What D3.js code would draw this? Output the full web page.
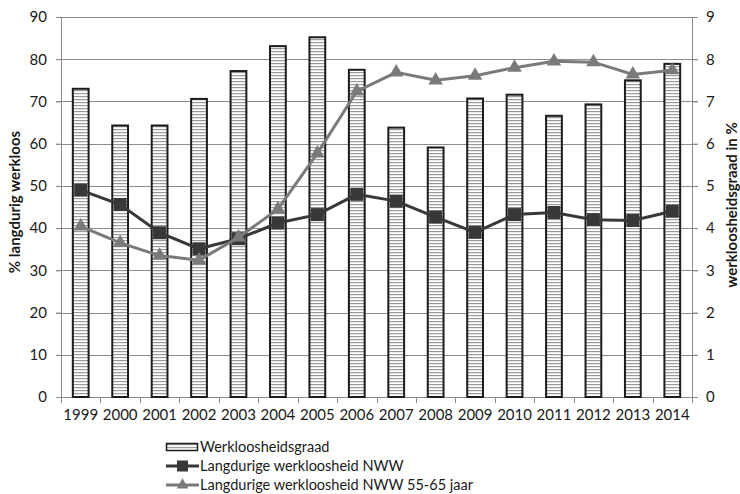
<!DOCTYPE html>
<html>
<head>
<meta charset="utf-8">
<script src="https://cdn.jsdelivr.net/npm/d3@7/dist/d3.min.js"></script>
<style>
  html, body { margin: 0; padding: 0; background: #fff; }
  svg { display: block; font-family: Lato, "Open Sans", sans-serif; }
</style>
</head>
<body>
<svg id="chart" width="740" height="494"></svg>
<script>
// Jaren en reeksen
const years = ["1999","2000","2001","2002","2003","2004","2005","2006","2007","2008","2009","2010","2011","2012","2013","2014"];
const werkloosheidsgraad = [7.30, 6.43, 6.43, 7.06, 7.72, 8.31, 8.52, 7.75, 6.38, 5.91, 7.07, 7.16, 6.66, 6.93, 7.50, 7.89];
const langdurigNWW = [49.0, 45.6, 38.9, 35.1, 37.5, 41.2, 43.2, 48.0, 46.4, 42.6, 39.0, 43.2, 43.7, 42.0, 41.8, 44.0];
const langdurigNWW5565 = [40.4, 36.5, 33.5, 32.4, 37.8, 44.5, 57.7, 72.4, 76.9, 75.0, 76.1, 78.0, 79.5, 79.3, 76.4, 77.4];
const leftTicks = [0, 10, 20, 30, 40, 50, 60, 70, 80, 90];
const rightTicks = [0, 1, 2, 3, 4, 5, 6, 7, 8, 9];
const legendLabels = ["Werkloosheidsgraad", "Langdurige werkloosheid NWW", "Langdurige werkloosheid NWW 55-65 jaar"];

const svg = d3.select("#chart");
const m = { left: 61, right: 48, top: 17, bottom: 97 };
const W = 740, H = 494;
const plotW = W - m.left - m.right, plotH = H - m.top - m.bottom;

const x = d3.scaleBand().domain(years).range([m.left, m.left + plotW]).paddingInner(0.6).paddingOuter(0.3);
const xb = d3.scaleBand().domain(years).range([m.left, m.left + plotW]);
const yL = d3.scaleLinear().domain([0, 90]).range([m.top + plotH, m.top]);
const yR = d3.scaleLinear().domain([0, 9]).range([m.top + plotH, m.top]);

const gridColor = "#8c8c8c";
const textColor = "#1a1a1a";

// Streeppatroon voor de staven
const defs = svg.append("defs");
const pat = defs.append("pattern").attr("id", "stripes").attr("patternUnits", "userSpaceOnUse")
  .attr("width", 6).attr("height", 3);
pat.append("rect").attr("width", 6).attr("height", 3).attr("fill", "#fff");
pat.append("rect").attr("y", 0).attr("width", 6).attr("height", 1.2).attr("fill", "#9a9a9a");

// Rasterlijnen
svg.append("g").selectAll("line").data(leftTicks.slice(1)).join("line")
  .attr("x1", m.left - 5).attr("x2", m.left + plotW + 6)
  .attr("y1", d => Math.round(yL(d)) + 0.5).attr("y2", d => Math.round(yL(d)) + 0.5)
  .attr("stroke", gridColor).attr("stroke-width", 1);

// Linker as
const axL = svg.append("g").attr("transform", `translate(${m.left},0)`)
  .call(d3.axisLeft(yL).tickValues(leftTicks).tickSize(5).tickPadding(9));
// Rechter as
const axR = svg.append("g").attr("transform", `translate(${m.left + plotW},0)`)
  .call(d3.axisRight(yR).tickValues(rightTicks).tickSize(6).tickPadding(8));
// Onderste as
const axB = svg.append("g").attr("transform", `translate(0,${m.top + plotH})`)
  .call(d3.axisBottom(xb).tickSize(0).tickPadding(12));
svg.append("g").selectAll("line").data(years.concat(["end"])).join("line")
  .attr("x1", (d, i) => Math.round(m.left + i * xb.bandwidth()) + 0.5)
  .attr("x2", (d, i) => Math.round(m.left + i * xb.bandwidth()) + 0.5)
  .attr("y1", m.top + plotH).attr("y2", m.top + plotH + 6)
  .attr("stroke", gridColor);

[axL, axR, axB].forEach(a => {
  a.selectAll("path.domain").attr("stroke", gridColor);
  a.selectAll(".tick line").attr("stroke", gridColor);
  a.selectAll("text").attr("fill", textColor).attr("font-size", 15).attr("font-family", "Lato, sans-serif");
});
axB.select("path.domain").attr("stroke", gridColor);

// Staven
svg.append("g").selectAll("rect").data(years).join("rect")
  .attr("x", d => x(d)).attr("width", x.bandwidth())
  .attr("y", (d, i) => yR(werkloosheidsgraad[i]))
  .attr("height", (d, i) => yR(0) - yR(werkloosheidsgraad[i]))
  .attr("fill", "url(#stripes)").attr("stroke", "#1c1c1c").attr("stroke-width", 2);

const cx = d => xb(d) + xb.bandwidth() / 2;

// Lijn NWW
const dark = "#383838";
svg.append("path").datum(langdurigNWW)
  .attr("d", d3.line().x((d, i) => cx(years[i])).y(d => yL(d)))
  .attr("fill", "none").attr("stroke", dark).attr("stroke-width", 3);
svg.append("g").selectAll("rect").data(langdurigNWW).join("rect")
  .attr("x", (d, i) => cx(years[i]) - 6.5).attr("y", d => yL(d) - 6.5)
  .attr("width", 13).attr("height", 13).attr("fill", dark);

// Lijn NWW 55-65
const grey = "#7a7a7a";
svg.append("path").datum(langdurigNWW5565)
  .attr("d", d3.line().x((d, i) => cx(years[i])).y(d => yL(d)))
  .attr("fill", "none").attr("stroke", grey).attr("stroke-width", 3);
const tri = d3.symbol().type(d3.symbolTriangle).size(90);
svg.append("g").selectAll("path").data(langdurigNWW5565).join("path")
  .attr("transform", (d, i) => `translate(${cx(years[i])},${yL(d)})`)
  .attr("d", tri).attr("fill", grey);

// Astitels
svg.append("text").attr("transform", `translate(20,${m.top + plotH / 2 - 5}) rotate(-90)`)
  .attr("text-anchor", "middle").attr("font-weight", "bold").attr("font-size", 15)
  .attr("fill", textColor).text("% langdurig werkloos");
svg.append("text").attr("transform", `translate(737,${m.top + plotH / 2 - 2}) rotate(-90)`)
  .attr("text-anchor", "middle").attr("font-weight", "bold").attr("font-size", 15)
  .attr("fill", textColor).text("werkloosheidsgraad in %");

// Legenda
const lg = svg.append("g").attr("transform", "translate(166,447)");
const rowH = 19;
lg.append("rect").attr("x", 0.5).attr("y", -3.5).attr("width", 31).attr("height", 7)
  .attr("fill", "url(#stripes)").attr("stroke", "#1c1c1c").attr("stroke-width", 1.5);
lg.append("line").attr("x1", 0).attr("x2", 33).attr("y1", rowH).attr("y2", rowH)
  .attr("stroke", dark).attr("stroke-width", 3);
lg.append("rect").attr("x", 11).attr("y", rowH - 5.5).attr("width", 11).attr("height", 11).attr("fill", dark);
lg.append("line").attr("x1", 0).attr("x2", 33).attr("y1", rowH * 2).attr("y2", rowH * 2)
  .attr("stroke", grey).attr("stroke-width", 3);
lg.append("path").attr("transform", `translate(16.5,${rowH * 2})`)
  .attr("d", d3.symbol().type(d3.symbolTriangle).size(60)).attr("fill", grey);
lg.selectAll("text").data(legendLabels).join("text")
  .attr("x", 34).attr("y", (d, i) => i * rowH).attr("dy", "0.35em")
  .attr("font-size", 14.5).attr("fill", textColor).text(d => d);
</script>
</body>
</html>
